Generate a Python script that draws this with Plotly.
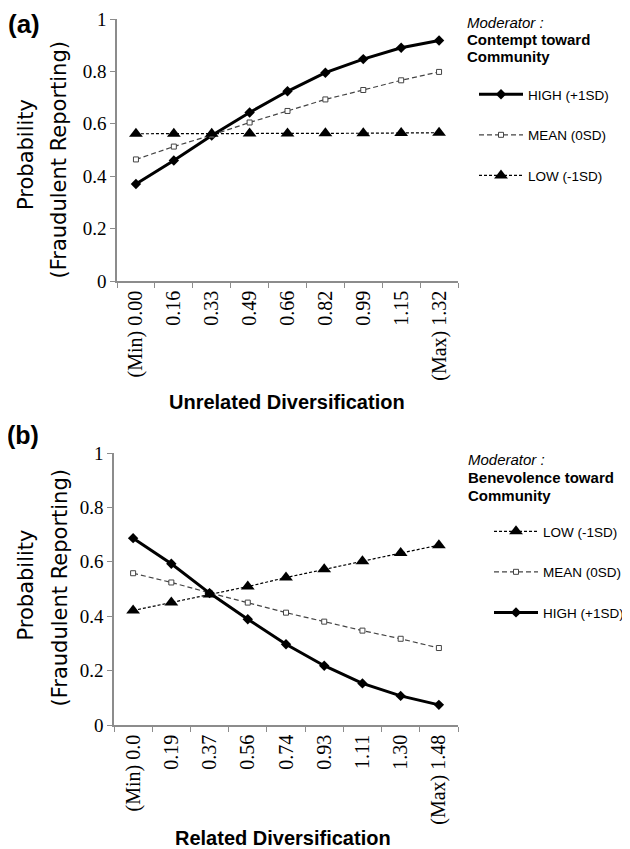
import plotly.graph_objects as go

W, H = 630, 849      # window size
OFF = 8              # page body margin
FW, FH = W - OFF, H - OFF

# ---------------- data ----------------
cats_a = ["(Min) 0.00", "0.16", "0.33", "0.49", "0.66", "0.82", "0.99", "1.15", "(Max) 1.32"]
high_a = [0.370, 0.460, 0.555, 0.643, 0.724, 0.795, 0.847, 0.890, 0.918]
mean_a = [0.464, 0.513, 0.557, 0.605, 0.649, 0.693, 0.729, 0.766, 0.798]
low_a = [0.562, 0.562, 0.562, 0.563, 0.563, 0.564, 0.564, 0.565, 0.566]

cats_b = ["(Min) 0.0", "0.19", "0.37", "0.56", "0.74", "0.93", "1.11", "1.30", "(Max) 1.48"]
high_b = [0.687, 0.593, 0.485, 0.389, 0.297, 0.218, 0.153, 0.107, 0.074]
mean_b = [0.558, 0.524, 0.486, 0.450, 0.413, 0.380, 0.347, 0.317, 0.283]
low_b = [0.421, 0.450, 0.480, 0.509, 0.542, 0.573, 0.602, 0.632, 0.661]

names = {"high": "HIGH (+1SD)", "mean": "MEAN (0SD)", "low": "LOW (-1SD)"}
moderator_a = ["<i>Moderator :</i>", "<b>Contempt toward</b>", "<b>Community</b>"]
moderator_b = ["<i>Moderator :</i>", "<b>Benevolence toward</b>", "<b>Community</b>"]
xtitle_a = "Unrelated Diversification"
xtitle_b = "Related Diversification"
ytitle_1 = "Probability"
ytitle_2 = "(Fraudulent Reporting)"


def px(x):
    return (x - OFF) / FW


def py(y):
    return 1 - (y - OFF) / FH


styles = {
    "high": dict(line=dict(color="black", width=3),
                 marker=dict(symbol="diamond", size=8, color="black")),
    "mean": dict(line=dict(color="#444444", width=1.2, dash="5px,3px"),
                 marker=dict(symbol="square", size=5, color="white",
                             line=dict(color="#444444", width=1))),
    "low": dict(line=dict(color="black", width=1.2, dash="3px,2px"),
                marker=dict(symbol="triangle-up", size=12, color="black")),
}

fig = go.Figure()


def add(key, cats, vals, xa, ya, leg):
    fig.add_trace(go.Scatter(x=cats, y=vals, mode="lines+markers", name=names[key],
                             xaxis=xa, yaxis=ya, legend=leg, legendgroup=leg + key,
                             **styles[key]))


add("high", cats_a, high_a, "x", "y", "legend")
add("mean", cats_a, mean_a, "x", "y", "legend")
add("low", cats_a, low_a, "x", "y", "legend")
add("low", cats_b, low_b, "x2", "y2", "legend2")
add("mean", cats_b, mean_b, "x2", "y2", "legend2")
add("high", cats_b, high_b, "x2", "y2", "legend2")

axcol = "#8c8c8c"
xcommon = dict(type="category", tickson="boundaries", ticks="outside", ticklen=5,
               tickcolor=axcol, showline=True, linecolor=axcol, linewidth=1.5,
               showgrid=False, zeroline=False, tickangle=-90, automargin=False,
               tickfont=dict(family="Liberation Serif", size=20, color="black"),
               range=[-0.5, 8.5])
ycommon = dict(range=[0, 1], dtick=0.2, ticks="outside", ticklen=5, tickcolor=axcol,
               showline=True, linecolor=axcol, linewidth=1.5, showgrid=False,
               zeroline=False, automargin=False,
               tickfont=dict(family="Liberation Serif", size=19, color="black"))

legcommon = dict(font=dict(family="Liberation Sans", size=13.5, color="black"),
                 itemwidth=44, tracegroupgap=20, bgcolor="rgba(0,0,0,0)",
                 xanchor="left", yanchor="top")

fig.update_layout(
    width=FW, height=FH, margin=dict(l=0, r=0, t=0, b=0, autoexpand=False),
    paper_bgcolor="white", plot_bgcolor="white", showlegend=True,
    xaxis=dict(domain=[px(117), px(458)], anchor="y", **xcommon),
    yaxis=dict(domain=[py(281), py(19)], anchor="x", **ycommon),
    xaxis2=dict(domain=[px(114), px(458)], anchor="y2", **xcommon),
    yaxis2=dict(domain=[py(725), py(453)], anchor="x2", **ycommon),
    legend=dict(x=px(474), y=py(79), **legcommon),
    legend2=dict(x=px(489), y=py(516), **legcommon),
)

ann = []
tfont = dict(family="DejaVu Sans", size=21, color="black")
for (x1, y1, x2, y2) in [(26, 155, 58.5, 160), (25.5, 585, 59.5, 588)]:
    ann.append(dict(text=ytitle_1, x=px(x1), y=py(y1), xref="paper", yref="paper",
                    textangle=-90, showarrow=False, font=tfont,
                    xanchor="center", yanchor="middle"))
    ann.append(dict(text=ytitle_2, x=px(x2), y=py(y2), xref="paper", yref="paper",
                    textangle=-90, showarrow=False, font=tfont,
                    xanchor="center", yanchor="middle"))

mfont = dict(family="Liberation Sans", size=15, color="black")
for lines, x0, ys in [(moderator_a, 465, [23, 40, 57]), (moderator_b, 466, [460, 477.5, 495])]:
    for txt, yy in zip(lines, ys):
        ann.append(dict(text=txt, x=px(x0), y=py(yy), xref="paper", yref="paper",
                        showarrow=False, font=mfont, xanchor="left", yanchor="middle"))

xfont = dict(family="Liberation Sans", size=20, color="black")
ann.append(dict(text="<b>" + xtitle_a + "</b>", x=px(286.5), y=py(401.7), xref="paper",
                yref="paper", showarrow=False, font=xfont, xanchor="center", yanchor="middle"))
ann.append(dict(text="<b>" + xtitle_b + "</b>", x=px(282.5), y=py(838), xref="paper",
                yref="paper", showarrow=False, font=xfont, xanchor="center", yanchor="middle"))
ann.append(dict(text="<b>(a)</b>", x=px(24), y=py(24), xref="paper", yref="paper",
                showarrow=False, font=dict(family="Liberation Sans", size=26, color="black"),
                xanchor="center", yanchor="middle"))
ann.append(dict(text="<b>(b)</b>", x=px(22.5), y=py(435), xref="paper", yref="paper",
                showarrow=False, font=dict(family="Liberation Sans", size=25, color="black"),
                xanchor="center", yanchor="middle"))
fig.update_layout(annotations=ann)

fig.write_html("out.html")
